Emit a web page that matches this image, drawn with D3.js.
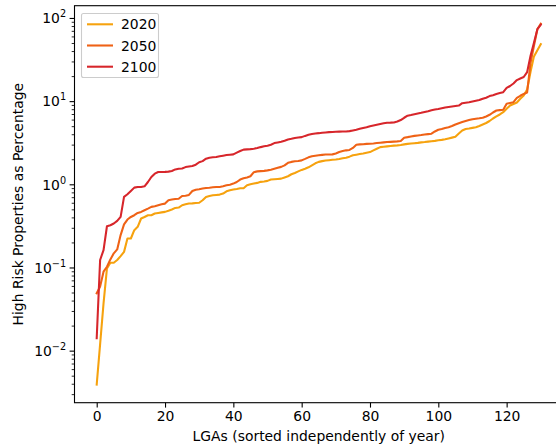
<!DOCTYPE html>
<html>
<head>
<meta charset="utf-8">
<script src="https://cdn.jsdelivr.net/npm/d3@7"></script>
<style>
body { margin: 0; background: #fff; }
svg { display: block; font-family: "DejaVu Sans", sans-serif; }
</style>
</head>
<body>
<div id="chart"></div>
<script>
var years = ["2020", "2050", "2100"]
var colors = ["#f6a20e", "#ef6216", "#d7262b"]

// high risk properties (%) per LGA, each year sorted on its own
var v2020 = [0.0039, 0.012, 0.037, 0.0975, 0.114, 0.114, 0.123, 0.137, 0.154, 0.223,
    0.223, 0.281, 0.308, 0.388, 0.405, 0.425, 0.425, 0.445, 0.453, 0.46,
    0.466, 0.48, 0.497, 0.52, 0.525, 0.56, 0.575, 0.587, 0.59, 0.597,
    0.60, 0.643, 0.705, 0.724, 0.738, 0.745, 0.752, 0.773, 0.824, 0.847,
    0.864, 0.878, 0.895, 0.895, 0.973, 1.0, 1.02, 1.04, 1.07, 1.08,
    1.10, 1.14, 1.15, 1.16, 1.17, 1.21, 1.25, 1.32, 1.37, 1.43,
    1.49, 1.54, 1.60, 1.69, 1.79, 1.86, 1.90, 1.93, 1.95, 1.97,
    1.99, 2.02, 2.06, 2.09, 2.15, 2.23, 2.27, 2.31, 2.35, 2.40,
    2.44, 2.56, 2.68, 2.80, 2.83, 2.86, 2.89, 2.92, 2.94, 2.97,
    3.02, 3.06, 3.09, 3.12, 3.15, 3.19, 3.22, 3.26, 3.30, 3.33,
    3.38, 3.42, 3.48, 3.56, 3.64, 3.73, 4.09, 4.44, 4.63, 4.69,
    4.77, 4.85, 5.03, 5.24, 5.46, 5.77, 6.18, 6.54, 6.91, 7.36,
    8.09, 8.85, 9.23, 9.62, 10.7, 11.7, 13.8, 22.5, 34.5, 41.0,
    48.5]
var v2050 = [0.049, 0.059, 0.089, 0.102, 0.125, 0.148, 0.165, 0.245, 0.33, 0.377,
    0.405, 0.425, 0.453, 0.466, 0.488, 0.51, 0.535, 0.545, 0.56, 0.575,
    0.586, 0.643, 0.655, 0.667, 0.67, 0.724, 0.73, 0.745, 0.831, 0.86,
    0.87, 0.888, 0.903, 0.91, 0.92, 0.928, 0.93, 0.946, 0.973, 0.99,
    1.02, 1.066, 1.14, 1.18, 1.21, 1.25, 1.40, 1.43, 1.44, 1.45,
    1.47, 1.50, 1.54, 1.58, 1.62, 1.69, 1.81, 1.86, 1.89, 1.91,
    1.94, 2.02, 2.11, 2.17, 2.20, 2.23, 2.26, 2.28, 2.28, 2.29,
    2.35, 2.45, 2.51, 2.56, 2.59, 2.74, 2.99, 3.02, 3.03, 3.06,
    3.08, 3.10, 3.13, 3.16, 3.19, 3.22, 3.24, 3.26, 3.28, 3.31,
    3.63, 3.69, 3.76, 3.82, 3.87, 3.91, 3.96, 4.01, 4.06, 4.32,
    4.53, 4.63, 4.76, 4.86, 5.02, 5.24, 5.43, 5.61, 5.77, 5.92,
    6.07, 6.15, 6.22, 6.31, 6.54, 6.85, 7.30, 7.71, 7.80, 7.87,
    9.28, 9.49, 9.70, 10.96, 11.6, 12.2, 12.7, 29, 46.4, 73,
    85.2]
var v2100 = [0.0141, 0.123, 0.162, 0.313, 0.322, 0.338, 0.363, 0.406, 0.705, 0.759,
    0.831, 0.912, 0.928, 0.93, 0.946, 1.066, 1.224, 1.343, 1.405, 1.405,
    1.41, 1.42, 1.445, 1.51, 1.54, 1.55, 1.61, 1.64, 1.66, 1.72,
    1.84, 1.90, 2.03, 2.09, 2.11, 2.13, 2.17, 2.21, 2.25, 2.27,
    2.29, 2.40, 2.51, 2.61, 2.63, 2.65, 2.68, 2.73, 2.80, 2.86,
    2.91, 2.99, 3.13, 3.19, 3.25, 3.34, 3.46, 3.53, 3.61, 3.66,
    3.69, 3.82, 3.94, 4.03, 4.09, 4.12, 4.16, 4.20, 4.24, 4.26,
    4.29, 4.30, 4.31, 4.32, 4.36, 4.44, 4.53, 4.65, 4.76, 4.86,
    5.00, 5.10, 5.20, 5.31, 5.42, 5.50, 5.51, 5.54, 5.69, 5.93,
    6.31, 6.68, 6.81, 6.96, 7.10, 7.24, 7.40, 7.57, 7.78, 7.93,
    8.04, 8.20, 8.38, 8.50, 8.61, 8.73, 8.85, 9.44, 9.57, 9.68,
    9.89, 10.1, 10.3, 10.7, 11.0, 11.5, 11.8, 12.2, 12.5, 12.8,
    14.4, 15.2, 16.3, 17.9, 18.7, 19.5, 22.3, 35.2, 50.4, 73.2,
    82.8]
var series = [v2020, v2050, v2100]

var xTicks = [0, 20, 40, 60, 80, 100, 120]
var yExponents = [-2, -1, 0, 1, 2]

var width = 556, height = 445
var margin = {top: 5.7, left: 74.5}
var plotW = 488.5, plotH = 397
var fontSize = 13.9

var svg = d3.select("#chart").append("svg")
    .attr("width", width)
    .attr("height", height)

var g = svg.append("g")
    .attr("transform", "translate(" + margin.left + "," + margin.top + ")")

// matplotlib style 5% margins (log space for y)
var n = v2020.length
var xPad = (n - 1) * 0.05
var x = d3.scaleLinear()
    .domain([-xPad, n - 1 + xPad])
    .range([0, plotW])

var all = [].concat(v2020, v2050, v2100)
var lo = Math.log10(d3.min(all)), hi = Math.log10(d3.max(all))
var yPad = (hi - lo) * 0.05
var y = d3.scaleLog()
    .domain([Math.pow(10, lo - yPad), Math.pow(10, hi + yPad)])
    .range([plotH, 0])

g.append("clipPath").attr("id", "clip")
    .append("rect").attr("width", plotW).attr("height", plotH)

// lines
var line = d3.line()
    .x(function(d, i) { return x(i) })
    .y(function(d) { return y(d) })

g.append("g")
    .attr("clip-path", "url(#clip)")
    .selectAll("path")
    .data(series)
    .enter()
    .append("path")
    .attr("d", line)
    .attr("fill", "none")
    .attr("stroke", function(d, i) { return colors[i] })
    .attr("stroke-width", 2.08)
    .attr("stroke-linejoin", "round")
    .attr("stroke-linecap", "square")

// x axis
var xAxis = g.append("g")
    .attr("transform", "translate(0," + plotH + ")")
    .call(d3.axisBottom(x).tickValues(xTicks).tickSize(4.9).tickSizeOuter(0).tickPadding(3.5))
xAxis.select(".domain").remove()
xAxis.selectAll("line").attr("stroke", "#000").attr("stroke-width", 1.1)
xAxis.selectAll("text")
    .attr("fill", "#000")
    .style("font-size", fontSize + "px")
    .style("font-family", "DejaVu Sans")

// y axis minor ticks
var minor = []
for (var e = -3; e <= 2; e++) {
    for (var k = 2; k <= 9; k++) {
        var v = k * Math.pow(10, e)
        if (v >= y.domain()[0] && v <= y.domain()[1]) minor.push(v)
    }
}
var yMinor = g.append("g")
    .call(d3.axisLeft(y).tickValues(minor).tickSize(2.8).tickSizeOuter(0).tickFormat(""))
yMinor.select(".domain").remove()
yMinor.selectAll("line").attr("stroke", "#000").attr("stroke-width", 0.84)

var yMajor = g.append("g")
    .call(d3.axisLeft(y).tickValues(yExponents.map(function(e) { return Math.pow(10, e) }))
        .tickSize(4.9).tickSizeOuter(0).tickFormat(""))
yMajor.select(".domain").remove()
yMajor.selectAll("line").attr("stroke", "#000").attr("stroke-width", 1.1)

var yLabels = g.append("g")
    .selectAll("text")
    .data(yExponents)
    .enter()
    .append("text")
    .attr("x", -8.4)
    .attr("y", function(e) { return y(Math.pow(10, e)) + 5.3 })
    .attr("text-anchor", "end")
    .style("font-size", fontSize + "px")
yLabels.append("tspan").text("10")
yLabels.append("tspan")
    .attr("dy", -6)
    .style("font-size", "9.7px")
    .text(function(e) { return e < 0 ? "\u2212" + (-e) : "" + e })

// frame
g.append("rect")
    .attr("width", plotW)
    .attr("height", plotH)
    .attr("fill", "none")
    .attr("stroke", "#000")
    .attr("stroke-width", 1.1)

// axis labels
svg.append("text")
    .attr("x", margin.left + plotW / 2)
    .attr("y", 441)
    .attr("text-anchor", "middle")
    .style("font-size", fontSize + "px")
    .text("LGAs (sorted independently of year)")

svg.append("text")
    .attr("transform", "translate(23," + (margin.top + plotH / 2) + ") rotate(-90)")
    .attr("text-anchor", "middle")
    .style("font-size", fontSize + "px")
    .text("High Risk Properties as Percentage")

// legend
var legend = svg.append("g")
legend.append("rect")
    .attr("x", 81.5)
    .attr("y", 13.5)
    .attr("width", 77)
    .attr("height", 64)
    .attr("rx", 2)
    .attr("fill", "#fff")
    .attr("fill-opacity", 0.8)
    .attr("stroke", "#cccccc")
    .attr("stroke-width", 1.1)

var items = legend.selectAll(".item")
    .data(years)
    .enter()
    .append("g")
    .attr("transform", function(d, i) { return "translate(0," + (24.3 + i * 21.2) + ")" })
items.append("line")
    .attr("x1", 87).attr("x2", 113)
    .attr("stroke", function(d, i) { return colors[i] })
    .attr("stroke-width", 2.08)
items.append("text")
    .attr("x", 121)
    .attr("y", 5)
    .style("font-size", fontSize + "px")
    .text(function(d) { return d })
</script>
</body>
</html>
